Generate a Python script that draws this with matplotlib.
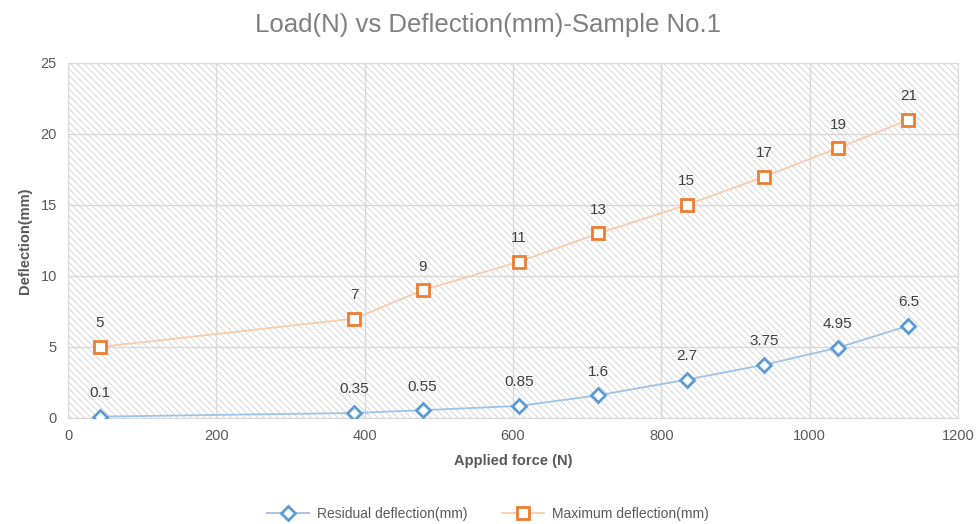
import matplotlib.pyplot as plt
from matplotlib.patches import Rectangle

# values
force = [43, 386, 478, 608, 715, 834, 939, 1038, 1133]
residual = [0.1, 0.35, 0.55, 0.85, 1.6, 2.7, 3.75, 4.95, 6.5]
maximum = [5, 7, 9, 11, 13, 15, 17, 19, 21]
residual_labels = ["0.1", "0.35", "0.55", "0.85", "1.6", "2.7", "3.75", "4.95", "6.5"]
maximum_labels = [str(v) for v in maximum]

plt.rcParams["font.family"] = ["Liberation Sans", "DejaVu Sans"]
plt.rcParams["hatch.linewidth"] = 0.7

fig = plt.figure(figsize=(9.76, 5.24), dpi=100)
ax = fig.add_axes([0.0697, 0.2023, 0.9119, 0.6775])

# hatched plot area
ax.add_patch(Rectangle((0, 0), 1, 1, transform=ax.transAxes, facecolor="white",
                       edgecolor="#d6d6d6", hatch="\\" * 5, lw=0, zorder=0))

ax.plot(force, residual, color="#9dc3e6", lw=1.3, marker="D", ms=7,
        mfc="white", mec="#5b9bd5", mew=2, label="Residual deflection(mm)", zorder=3)
ax.plot(force, maximum, color="#f8cbad", lw=1.3, marker="s", ms=9,
        mfc="white", mec="#ed7d31", mew=2, label="Maximum deflection(mm)", zorder=3)

for x, y, t in zip(force, residual, residual_labels):
    ax.annotate(t, (x, y), xytext=(0, 12), textcoords="offset points",
                ha="center", va="bottom", fontsize=11, color="#404040")
for x, y, t in zip(force, maximum, maximum_labels):
    ax.annotate(t, (x, y), xytext=(0, 12), textcoords="offset points",
                ha="center", va="bottom", fontsize=11, color="#404040")

ax.set_xlim(0, 1200)
ax.set_ylim(0, 25)
ax.set_xticks(range(0, 1201, 200))
ax.set_yticks(range(0, 26, 5))
ax.grid(True, color="#d9d9d9", lw=1, zorder=1)
ax.set_axisbelow(True)
ax.tick_params(length=0, labelsize=10.5, labelcolor="#595959", pad=8)
for s in ax.spines.values():
    s.set_color("#d9d9d9")

ax.set_xlabel("Applied force (N)", fontsize=10.5, fontweight="bold", color="#595959", labelpad=8)
ax.set_ylabel("Deflection(mm)", fontsize=10.5, fontweight="bold", color="#595959", labelpad=6)

fig.suptitle("Load(N) vs Deflection(mm)-Sample No.1", y=0.975, fontsize=18.5, color="#7f7f7f")

fig.legend(loc="center", bbox_to_anchor=(0.5, 10 / 524), ncol=2, frameon=False,
           fontsize=10, labelcolor="#595959", columnspacing=2.5, handlelength=3,
           handletextpad=0.6)

fig.savefig("out.png", dpi=100)
